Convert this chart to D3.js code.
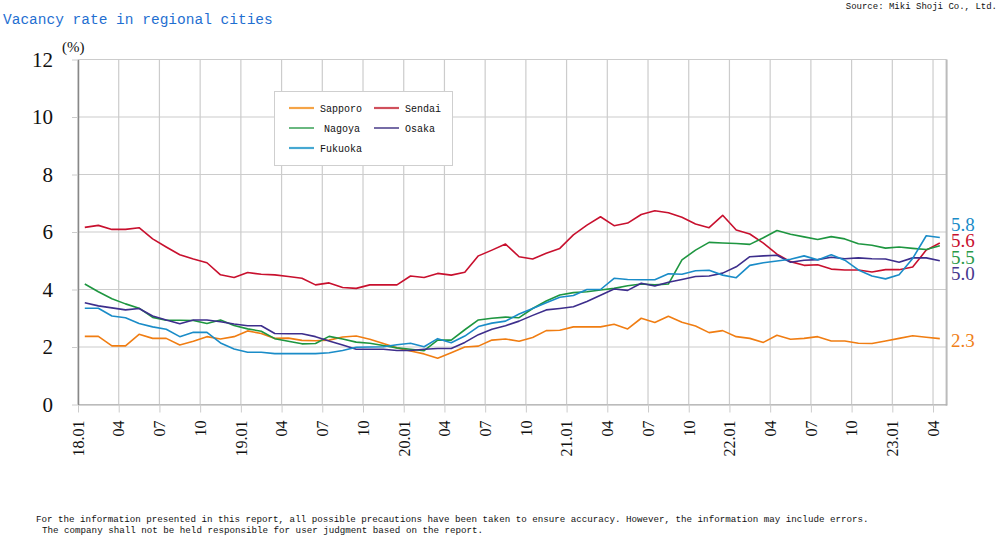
<!DOCTYPE html>
<html>
<head>
<meta charset="utf-8">
<script src="https://cdn.jsdelivr.net/npm/d3@7"></script>
<style>
body { margin: 0; background: #fff; }
</style>
</head>
<body>
<script>
// monthly categories, 18.01 .. 23.04
var months = ["18.01","18.02","18.03","18.04","18.05","18.06","18.07","18.08","18.09","18.10","18.11","18.12",
    "19.01","19.02","19.03","19.04","19.05","19.06","19.07","19.08","19.09","19.10","19.11","19.12",
    "20.01","20.02","20.03","20.04","20.05","20.06","20.07","20.08","20.09","20.10","20.11","20.12",
    "21.01","21.02","21.03","21.04","21.05","21.06","21.07","21.08","21.09","21.10","21.11","21.12",
    "22.01","22.02","22.03","22.04","22.05","22.06","22.07","22.08","22.09","22.10","22.11","22.12",
    "23.01","23.02","23.03","23.04"];

var sapporo = [2.37,2.37,2.04,2.04,2.44,2.30,2.30,2.07,2.20,2.36, 2.28,2.36,2.56,2.47,2.30,2.31,2.23,2.22,2.24,2.35,
    2.38,2.27,2.12,1.97,1.86,1.76,1.61,1.80,2.00,2.03, 2.24,2.28,2.20,2.33,2.57,2.58,2.70,2.70,2.70,2.79,
    2.63,3.00,2.85,3.07,2.86,2.73,2.50,2.57,2.36,2.30, 2.16,2.41,2.27,2.30,2.36,2.21,2.21,2.13,2.12,2.21,
    2.30,2.39,2.34,2.29];
var sendai = [6.16,6.23,6.09,6.09,6.15,5.76,5.48,5.21,5.06,4.93, 4.51,4.42,4.59,4.53,4.51,4.45,4.39,4.16,4.23,4.07,
    4.04,4.16,4.16,4.16,4.47,4.42,4.56,4.50,4.60,5.17, 5.37,5.58,5.14,5.06,5.26,5.43,5.90,6.24,6.53,6.22,
    6.31,6.61,6.74,6.67,6.51,6.28,6.15,6.58,6.07,5.93, 5.61,5.23,4.97,4.84,4.86,4.71,4.68,4.68,4.61,4.69,
    4.69,4.78,5.37,5.62];
var nagoya = [4.19,3.92,3.68,3.50,3.35,3.03,2.93,2.93,2.92,2.82, 2.94,2.75,2.63,2.55,2.29,2.20,2.11,2.12,2.37,2.28,
    2.17,2.13,2.05,1.97,1.92,1.87,2.24,2.24,2.60,2.94, 3.00,3.04,3.02,3.34,3.60,3.81,3.89,3.92,3.98,4.04,
    4.13,4.19,4.16,4.19,5.03,5.37,5.64,5.62,5.60,5.57, 5.80,6.05,5.92,5.83,5.74,5.84,5.76,5.59,5.54,5.44,
    5.48,5.43,5.39,5.52];
var osaka = [3.54,3.43,3.36,3.29,3.34,3.08,2.94,2.81,2.94,2.94, 2.88,2.80,2.74,2.74,2.47,2.46,2.46,2.36,2.21,2.07,
    1.92,1.92,1.92,1.88,1.88,1.92,1.95,1.95,2.16,2.43, 2.62,2.74,2.90,3.10,3.29,3.34,3.40,3.58,3.80,4.02,
    3.97,4.22,4.12,4.25,4.35,4.45,4.47,4.57,4.79,5.14, 5.17,5.19,4.95,5.02,5.04,5.12,5.07,5.10,5.07,5.06,
    4.95,5.10,5.10,5.00];
var fukuoka = [3.35,3.35,3.08,3.02,2.82,2.70,2.62,2.36,2.51,2.51, 2.14,1.93,1.82,1.82,1.77,1.77,1.77,1.77,1.80,1.88,
    1.99,2.00,2.01,2.08,2.13,2.01,2.29,2.15,2.38,2.71, 2.83,2.90,3.15,3.34,3.54,3.73,3.79,4.00,4.00,4.39,
    4.35,4.34,4.34,4.55,4.53,4.65,4.67,4.50,4.41,4.84, 4.93,4.99,5.05,5.17,5.03,5.21,5.02,4.68,4.47,4.37,
    4.51,5.08,5.87,5.81];

var cityNames = ["Sapporo", "Sendai", "Nagoya", "Osaka", "Fukuoka"];
var yTicks = [0, 2, 4, 6, 8, 10, 12];

var lineColors = {Sapporo: "#f07d12", Sendai: "#c8102e", Nagoya: "#1e9640", Osaka: "#3d2e8c", Fukuoka: "#1a8cc8"};
var legendColors = {Sapporo: "#f5a447", Sendai: "#d0505c", Nagoya: "#2a9a4a", Osaka: "#3b2d80", Fukuoka: "#46a8d2"};
var labelColors = {Sapporo: "#f08018", Sendai: "#c8102e", Nagoya: "#2a9a4a", Osaka: "#46388e", Fukuoka: "#1a8cc8"};

var series = [
    {name: "Sapporo", values: sapporo},
    {name: "Sendai", values: sendai},
    {name: "Nagoya", values: nagoya},
    {name: "Osaka", values: osaka},
    {name: "Fukuoka", values: fukuoka}
];

(function() {
    var width = 1000, height = 535;
    var plotLeft = 78, plotRight = 946.6, plotTop = 59.5, plotBottom = 404.5;
    var mono = "'Liberation Mono', 'DejaVu Sans Mono', monospace";
    var serif = "'Liberation Serif', 'DejaVu Serif', serif";

    var svg = d3.select("body").append("svg").attr("width", width).attr("height", height)
        .style("font-family", serif);

    // month index -> x, ticks at category boundaries, points at centers
    var x = d3.scaleLinear().domain([0, months.length]).range([plotLeft, plotRight]);
    var y = d3.scaleLinear().domain([0, 12]).range([plotBottom, plotTop]);
    var quarterIdx = d3.range(0, months.length, 3);

    // grid
    svg.append("g").selectAll("line.hgrid").data(yTicks).enter().append("line").attr("class", "hgrid")
        .attr("x1", plotLeft).attr("x2", plotRight)
        .attr("y1", function(d) { return y(d); }).attr("y2", function(d) { return y(d); })
        .attr("stroke", "#cccccc").attr("stroke-width", 1.2);
    svg.append("g").selectAll("line.vgrid").data(quarterIdx).enter().append("line").attr("class", "vgrid")
        .attr("x1", function(i) { return x(i); }).attr("x2", function(i) { return x(i); })
        .attr("y1", plotTop).attr("y2", plotBottom)
        .attr("stroke", "#cccccc").attr("stroke-width", 1.2);
    svg.append("line").attr("x1", plotRight).attr("x2", plotRight).attr("y1", plotTop).attr("y2", plotBottom + 1)
        .attr("stroke", "#bbbbbb").attr("stroke-width", 2);

    // x axis
    var xAxis = d3.axisBottom(x).tickValues(quarterIdx).tickSize(8).tickSizeOuter(0)
        .tickFormat(function(i) {
            var m = months[i];
            return m.slice(3) == "01" ? m : m.slice(3);
        });
    var gx = svg.append("g").attr("transform", "translate(0," + plotBottom + ")").call(xAxis);
    gx.select(".domain").attr("stroke", "#aaaaaa").attr("stroke-width", 1.2);
    gx.selectAll(".tick line").attr("stroke", "#cccccc");
    gx.selectAll("text").attr("transform", "rotate(-90)").attr("x", -16).attr("y", 0).attr("dy", "0.33em")
        .style("text-anchor", "end").style("font-family", serif).style("font-size", "16px").attr("fill", "#111");

    // y axis
    var yAxis = d3.axisLeft(y).tickValues(yTicks).tickSize(6).tickSizeOuter(0).tickPadding(19);
    var gy = svg.append("g").attr("transform", "translate(" + plotLeft + ",0)").call(yAxis);
    gy.select(".domain").attr("stroke", "#888888").attr("stroke-width", 1.5);
    gy.selectAll(".tick line").attr("stroke", "#cccccc");
    gy.selectAll("text").style("font-family", serif).style("font-size", "21px").attr("fill", "#111");

    svg.append("text").attr("x", 62).attr("y", 52).style("font-size", "15px").attr("fill", "#111").text("(%)");

    // lines
    var line = d3.line()
        .x(function(d, i) { return x(i + 0.5); })
        .y(function(d) { return y(d); });
    svg.append("g").selectAll("path.city").data(series).enter().append("path").attr("class", "city")
        .attr("d", function(s) { return line(s.values); })
        .attr("fill", "none")
        .attr("stroke", function(s) { return lineColors[s.name]; })
        .attr("stroke-width", 1.6)
        .attr("stroke-linejoin", "round");

    // latest values on the right, spread apart where they crowd
    var ends = series.map(function(s) {
        var v = s.values[s.values.length - 1];
        return {name: s.name, v: v, y: y(v)};
    }).sort(function(a, b) { return a.y - b.y; });
    var gap = 16.5;
    var groups = [];
    ends.forEach(function(e) {
        var g = groups[groups.length - 1];
        if (g && e.y - g.items[g.items.length - 1].y < gap) { g.items.push(e); } else { groups.push({items: [e]}); }
    });
    groups.forEach(function(g) {
        var mean = d3.mean(g.items, function(e) { return e.y; });
        g.items.forEach(function(e, k) { e.ly = mean + (k - (g.items.length - 1) / 2) * gap + 2; });
    });
    svg.append("g").selectAll("text.endval").data(ends).enter().append("text").attr("class", "endval")
        .attr("x", 951).attr("y", function(e) { return e.ly; }).attr("dy", "0.35em")
        .style("font-size", "19px").attr("fill", function(e) { return labelColors[e.name]; })
        .text(function(e) { return e.v.toFixed(1); });

    // legend
    var lg = svg.append("g");
    lg.append("rect").attr("x", 274.5).attr("y", 91.5).attr("width", 178).attr("height", 74)
        .attr("fill", "#fff").attr("stroke", "#cfcfcf");
    var items = lg.selectAll("g.item").data(cityNames).enter().append("g").attr("class", "item")
        .attr("transform", function(d, i) {
            return "translate(" + (289 + (i % 2) * 85) + "," + (108 + Math.floor(i / 2) * 20) + ")";
        });
    items.append("line").attr("x1", 0).attr("x2", 25).attr("y1", 0).attr("y2", 0)
        .attr("stroke", function(d) { return legendColors[d]; })
        .attr("stroke-width", function(d) { return d == "Nagoya" || d == "Osaka" ? 1.4 : 2.2; });
    items.append("text").attr("x", function(d) { return d == "Nagoya" ? 35 : 31; }).attr("y", 0).attr("dy", "0.35em")
        .style("font-family", mono).style("font-size", "10px").attr("fill", "#111").text(function(d) { return d; });

    // titles and notes
    svg.append("text").attr("x", 3).attr("y", 24).style("font-family", mono).style("font-size", "14.5px")
        .attr("fill", "#1f6fd1").text("Vacancy rate in regional cities");
    svg.append("text").attr("x", 997).attr("y", 9).style("font-family", mono).style("font-size", "9px")
        .style("text-anchor", "end").attr("fill", "#111").text("Source: Miki Shoji Co., Ltd.");
    svg.append("text").attr("x", 36).attr("y", 522).style("font-family", mono).style("font-size", "9.2px").attr("fill", "#111")
        .text("For the information presented in this report, all possible precautions have been taken to ensure accuracy. However, the information may include errors.");
    svg.append("text").attr("x", 42).attr("y", 533).style("font-family", mono).style("font-size", "9.2px").attr("fill", "#111")
        .text("The company shall not be held responsible for user judgment based on the report.");
})();
</script>
</body>
</html>
